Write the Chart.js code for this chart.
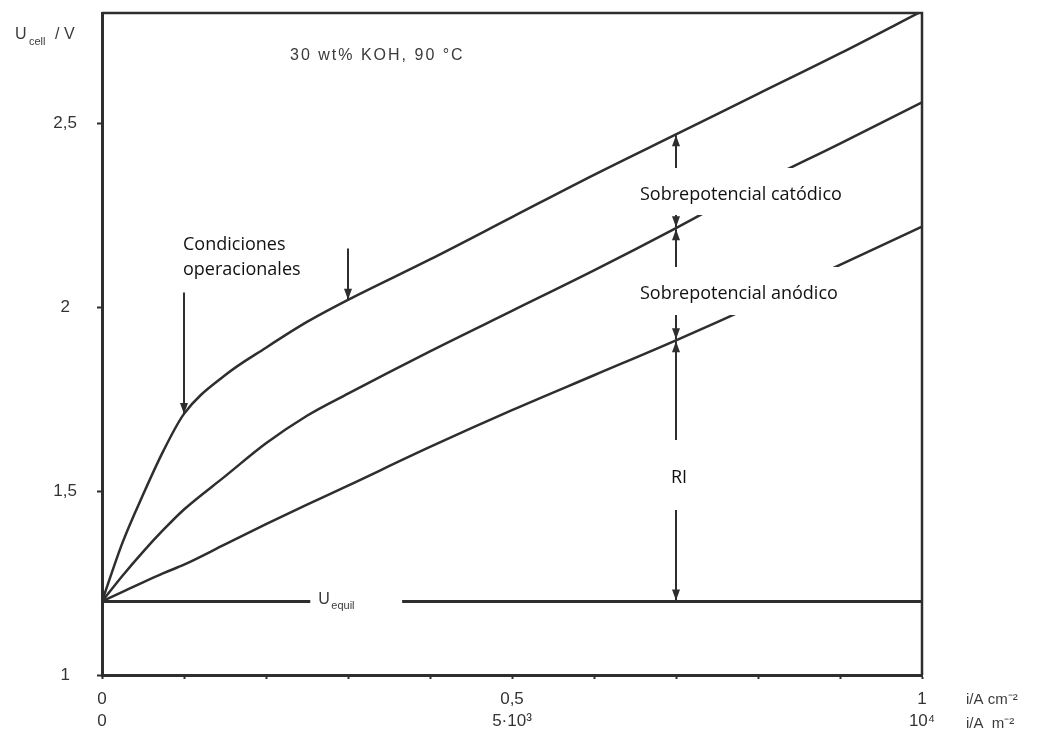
<!DOCTYPE html>
<html>
<head>
<meta charset="utf-8">
<script src="https://cdn.jsdelivr.net/npm/chart.js@4/dist/chart.umd.min.js"></script>
<style>
    html, body { margin: 0; padding: 0; background: #fff; }
    #wrap { width: 1061px; height: 752px; position: relative; }
</style>
</head>
<body>
<div id="wrap"><canvas id="cellChart"></canvas></div>
<script>
// current density i / A cm^-2
const currents = [0, 0.025, 0.05, 0.075, 0.1, 0.15, 0.2, 0.25, 0.3, 0.4, 0.5, 0.6, 0.7, 0.8, 0.9, 1];
// cell voltage U / V
const totalVoltage = [1.2, 1.36, 1.49, 1.61, 1.71, 1.815, 1.89, 1.96, 2.02, 2.13, 2.245, 2.36, 2.47, 2.58, 2.69, 2.805];
const anodeVoltage = [1.2, 1.27, 1.335, 1.395, 1.45, 1.54, 1.63, 1.705, 1.765, 1.88, 1.99, 2.1, 2.215, 2.335, 2.445, 2.557];
const ohmicVoltage = [1.2, 1.226, 1.252, 1.277, 1.3, 1.355, 1.41, 1.463, 1.515, 1.62, 1.72, 1.815, 1.91, 2.01, 2.115, 2.219];
// equilibrium voltage, broken where its label sits
const equilibriumX = [0, 0.254, null, 0.366, 1];
const equilibriumVoltage = 1.2;

const yTicks = [1, 1.5, 2, 2.5];
const yTickLabels = ['1', '1,5', '2', '2,5'];
const xTickLabels = { 0: ['0', '0'], 5: ['0,5', '5·10³'], 10: ['1', '10⁴'] };

// operating points marked with arrows: [current, start voltage]
const operatingArrows = [[0.1, 2.04], [0.3, 2.16]];
const breakdownCurrent = 0.7;

const ink = '#2e2e2e';
const scanFont = '"Liberation Sans", Arial, sans-serif';
const noteFont = '"Open Sans", sans-serif';

function toPoints(values) {
    return currents.map((c, i) => ({ x: c, y: values[i] }));
}

function valueAt(values, c) {
    for (let i = 1; i < currents.length; i++) {
        if (c <= currents[i]) {
            const t = (c - currents[i - 1]) / (currents[i] - currents[i - 1]);
            return values[i - 1] + t * (values[i] - values[i - 1]);
        }
    }
    return values[values.length - 1];
}

function arrowHead(ctx, x, y, dir) {
    ctx.beginPath();
    ctx.moveTo(x, y);
    ctx.lineTo(x - 4, y - dir * 11);
    ctx.lineTo(x + 4, y - dir * 11);
    ctx.closePath();
    ctx.fill();
}

function arrow(ctx, x, y1, y2, both) {
    ctx.beginPath();
    ctx.moveTo(x, y1);
    ctx.lineTo(x, y2);
    ctx.stroke();
    arrowHead(ctx, x, y2, y2 > y1 ? 1 : -1);
    if (both) arrowHead(ctx, x, y1, y1 > y2 ? 1 : -1);
}

const notes = {
    id: 'notes',
    afterDatasetsDraw(chart) {
        const ctx = chart.ctx;
        const xs = chart.scales.x;
        const ys = chart.scales.y;
        const area = chart.chartArea;
        ctx.save();

        // frame top and right
        ctx.strokeStyle = ink;
        ctx.lineWidth = 2.5;
        ctx.beginPath();
        ctx.moveTo(area.left, area.top);
        ctx.lineTo(area.right, area.top);
        ctx.lineTo(area.right, area.bottom);
        ctx.stroke();

        ctx.fillStyle = ink;
        ctx.lineWidth = 2;

        operatingArrows.forEach(([c, v]) => {
            arrow(ctx, xs.getPixelForValue(c), ys.getPixelForValue(v), ys.getPixelForValue(valueAt(totalVoltage, c)), false);
        });

        const bx = xs.getPixelForValue(breakdownCurrent);
        const levels = [valueAt(totalVoltage, breakdownCurrent), valueAt(anodeVoltage, breakdownCurrent),
            valueAt(ohmicVoltage, breakdownCurrent), equilibriumVoltage];
        for (let i = 0; i < 3; i++) {
            arrow(ctx, bx, ys.getPixelForValue(levels[i]) + 1, ys.getPixelForValue(levels[i + 1]) - 1, true);
        }

        // white label boxes over the lines
        ctx.fillStyle = '#fff';
        ctx.fillRect(bx - 56, 168, 250, 47);
        ctx.fillRect(bx - 56, 267, 250, 48);
        ctx.fillRect(bx - 30, 440, 60, 70);
        ctx.fillRect(163, 230, 174, 62);

        ctx.fillStyle = '#111';
        ctx.font = '18px ' + noteFont;
        ctx.textBaseline = 'middle';
        ctx.textAlign = 'left';
        ctx.fillText('Sobrepotencial catódico', bx - 36, 195);
        ctx.fillText('Sobrepotencial anódico', bx - 36, 294);
        ctx.fillText('Condiciones', 183, 245);
        ctx.fillText('operacionales', 183, 270);
        ctx.textAlign = 'center';
        ctx.fillText('RI', bx + 3, 478);

        // scanned labels
        ctx.fillStyle = '#3a3a3a';
        ctx.textAlign = 'left';
        ctx.font = '16px ' + scanFont;
        ctx.letterSpacing = '2px';
        ctx.fillText('30 wt% KOH, 90 °C', 290, 56);
        ctx.letterSpacing = '0px';

        ctx.font = '16px ' + scanFont;
        const ueqX = xs.getPixelForValue(0.254) + 8;
        const ueqY = ys.getPixelForValue(equilibriumVoltage);
        ctx.fillText('U', ueqX, ueqY - 2);
        ctx.font = '11px ' + scanFont;
        ctx.fillText('equil', ueqX + 13, ueqY + 5);

        ctx.font = '16px ' + scanFont;
        ctx.fillText('U', 15, 35);
        ctx.font = '11px ' + scanFont;
        ctx.fillText('cell', 29, 42);
        ctx.font = '16px ' + scanFont;
        ctx.fillText('/ V', 55, 35);

        ctx.font = '15px ' + scanFont;
        ctx.fillText('i/A cm⁻²', 966, 700);
        ctx.fillText('i/A  m⁻²', 966, 724);
        ctx.restore();
    }
};

const lineStyle = {
    borderColor: ink,
    borderWidth: 2.5,
    pointRadius: 0,
    fill: false,
    cubicInterpolationMode: 'monotone'
};

new Chart(document.getElementById('cellChart'), {
    type: 'line',
    data: {
        datasets: [
            { label: 'U cell', data: toPoints(totalVoltage), ...lineStyle },
            { label: 'U anode', data: toPoints(anodeVoltage), ...lineStyle },
            { label: 'U RI', data: toPoints(ohmicVoltage), ...lineStyle },
            {
                label: 'U equil',
                data: equilibriumX.map(c => ({ x: c === null ? 0.3 : c, y: c === null ? null : equilibriumVoltage })),
                ...lineStyle,
                borderWidth: 3,
                spanGaps: false
            }
        ]
    },
    options: {
        responsive: true,
        maintainAspectRatio: false,
        animation: false,
        layout: {
            padding: { top: 13, right: 139, left: 0, bottom: 0 }
        },
        plugins: {
            legend: { display: false },
            tooltip: { enabled: false }
        },
        scales: {
            x: {
                type: 'linear',
                min: 0,
                max: 1,
                afterFit(scale) {
                    scale.height = 77;
                    scale.paddingLeft = 0;
                    scale.paddingRight = 0;
                },
                border: { color: ink, width: 3 },
                grid: { drawOnChartArea: false, color: ink, tickLength: 4, tickWidth: 2 },
                ticks: {
                    stepSize: 0.1,
                    autoSkip: false,
                    maxRotation: 0,
                    padding: 9,
                    color: '#333',
                    font: { family: scanFont, size: 17, lineHeight: 1.3 },
                    callback: (v) => xTickLabels[Math.round(v * 10)] || ''
                }
            },
            y: {
                type: 'linear',
                min: 1,
                max: 2.8,
                afterFit(scale) {
                    scale.width = 102;
                    scale.paddingTop = 0;
                    scale.paddingBottom = 0;
                },
                afterBuildTicks(scale) { scale.ticks = yTicks.map(v => ({ value: v })); },
                border: { color: ink, width: 3 },
                grid: { drawOnChartArea: false, color: ink, tickLength: 5, tickWidth: 2 },
                ticks: {
                    crossAlign: 'center',
                    padding: 20,
                    color: '#333',
                    font: { family: scanFont, size: 17 },
                    callback: (v) => yTickLabels[yTicks.indexOf(v)]
                }
            }
        }
    },
    plugins: [notes]
});
</script>
</body>
</html>
